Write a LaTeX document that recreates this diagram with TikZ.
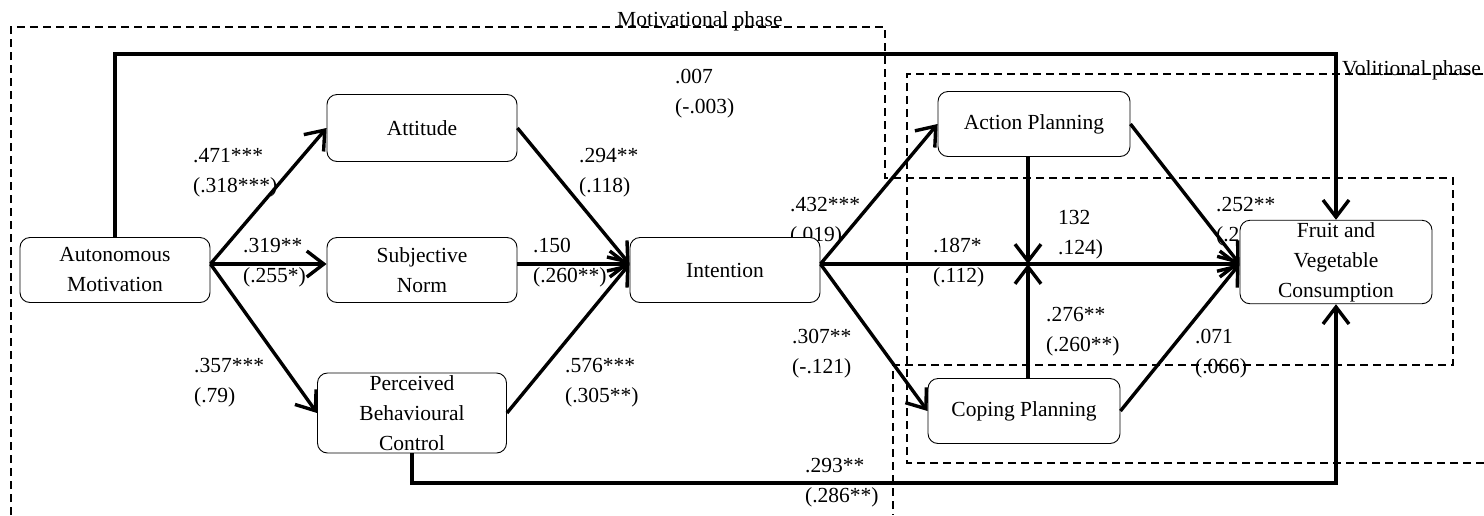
\documentclass[tikz,border=0pt]{standalone}
\usepackage{fontspec}
\setmainfont{Liberation Serif}
\usetikzlibrary{arrows.meta}

\begin{document}
\begin{tikzpicture}[x=1pt,y=-1pt,font=\fontsize{21.5}{30}\selectfont,
  >={Straight Barb[length=17pt,width=26pt]},
  box/.style={draw,line width=0.9pt,rounded corners=10pt,fill=white,align=center,
    minimum width=190pt,minimum height=65pt,inner sep=2pt},
  link/.style={line width=3.4pt,->},
  lbl/.style={anchor=west,align=left,inner sep=0pt},
  phase/.style={line width=1.4pt,dash pattern=on 8pt off 5pt}]
\useasboundingbox (0,0) rectangle (1484,515);
% phase regions
\draw[phase] (11,515) -- (11,27) -- (885,27) -- (885,178) -- (1453,178) -- (1453,365) -- (893,365) -- (893,515);
\draw[phase] (1484,463) -- (907,463) -- (907,74) -- (1484,74);
\node[inner sep=0pt,anchor=base west] (mot) at (617,26) {Motivational phase};
\node[inner sep=0pt,anchor=base west] (vol) at (1342,75) {Volitional phase};
% path coefficients
\node[lbl] (c1) at (675,94) {.007\\(-.003)};
\node[lbl] (c2) at (193,173) {.471***\\(.318***)};
\node[lbl] (c3) at (579,173) {.294**\\(.118)};
\node[lbl] (c4) at (243,263) {.319**\\(.255*)};
\node[lbl] (c5) at (533,263) {.150\\(.260**)};
\node[lbl] (c6) at (194,383) {.357***\\(.79)};
\node[lbl] (c7) at (565,383) {.576***\\(.305**)};
\node[lbl] (c8) at (790,222) {.432***\\(.019)};
\node[lbl] (c9) at (1216,222) {.252**\\(.20};
\node[lbl] (c10) at (1058,235) {132\\.124)};
\node[lbl] (c11) at (933,263) {.187*\\(.112)};
\node[lbl] (c12) at (1046,332) {.276**\\(.260**)};
\node[lbl] (c13) at (1195,354) {.071\\(.066)};
\node[lbl] (c14) at (792,354) {.307**\\(-.121)};
\node[lbl] (c15) at (805,483) {.293**\\(.286**)};
% constructs
\node[box] (auto) at (115,270) {Autonomous\\Motivation};
\node[box,minimum height=67pt] (att) at (422,128) {Attitude};
\node[box] (norm) at (422,270) {Subjective\\Norm};
\node[box,minimum width=189pt,minimum height=80pt] (pbc) at (412,413) {Perceived\\Behavioural\\Control};
\node[box] (int) at (725,270) {Intention};
\node[box,minimum width=192pt] (act) at (1034,124) {Action Planning};
\node[box,minimum width=192pt] (cop) at (1024,411) {Coping Planning};
\node[box,minimum width=192pt,minimum height=80pt] (fv) at (1336,262) {Fruit and\\Vegetable\\Consumption};
\coordinate (topy) at (0,54);
\coordinate (boty) at (0,483);
\coordinate (rowy) at (0,264);
\coordinate (mid) at (1028,264);
% paths
\draw[link] (auto.east |- rowy) -- (att.west);
\draw[link] (auto.east |- rowy) -- (norm.west |- rowy);
\draw[link] (auto.east |- rowy) -- (pbc.west);
\draw[link] (att.east) -- (int.west |- rowy);
\draw[link] (norm.east |- rowy) -- (int.west |- rowy);
\draw[link] (pbc.east) -- (int.west |- rowy);
\draw[link] (int.east |- rowy) -- (act.west);
\draw[link] (int.east |- rowy) -- (cop.west);
\draw[link] (int.east |- rowy) -- (fv.west |- rowy);
\draw[link] (act.east) -- (fv.west |- rowy);
\draw[link] (cop.east) -- (fv.west |- rowy);
\draw[link] (act.south -| mid) -- (mid);
\draw[link] (cop.north -| mid) -- (mid);
\draw[link] (auto.north) -- (auto.north |- topy) -| (fv.north);
\draw[link] (pbc.south) -- (pbc.south |- boty) -| (fv.south);
\end{tikzpicture}
\end{document}
